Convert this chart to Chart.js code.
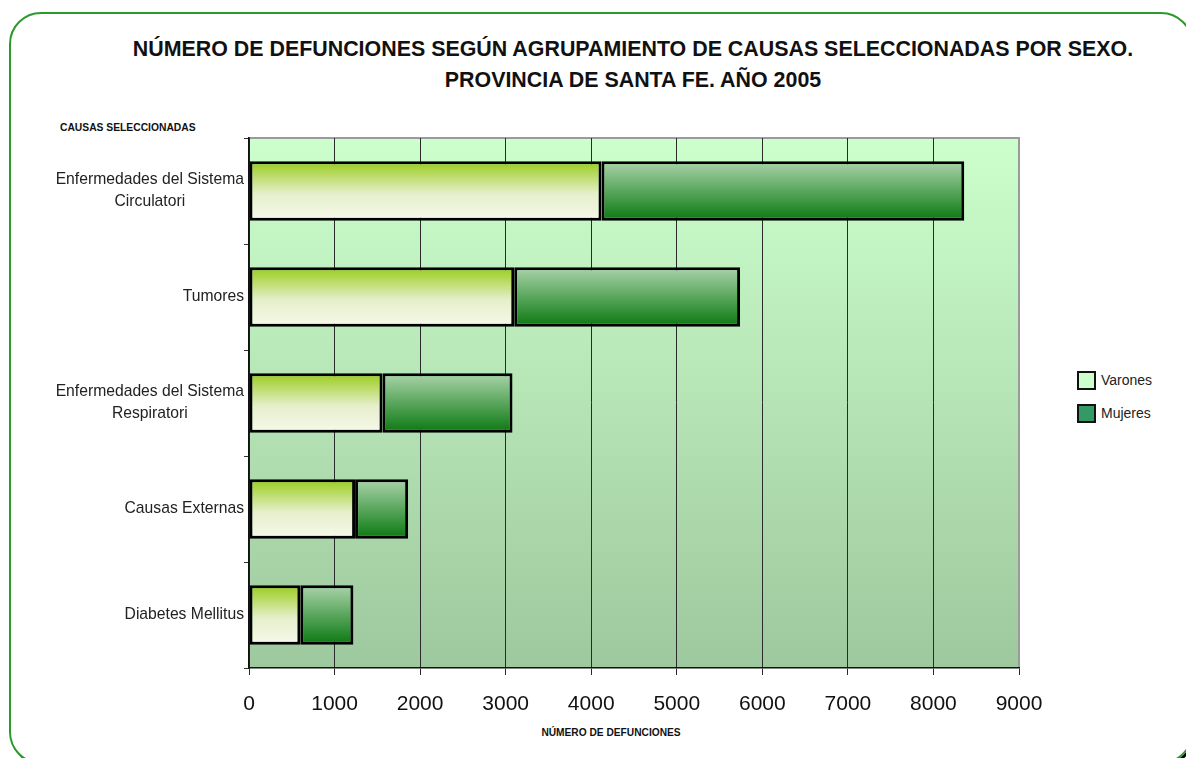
<!DOCTYPE html>
<html>
<head>
<meta charset="utf-8">
<script src="https://cdn.jsdelivr.net/npm/chart.js@4"></script>
<style>
    html, body { margin: 0; padding: 0; background: #fff; }
    body { width: 1186px; height: 758px; position: relative; overflow: hidden; font-family: "Liberation Sans", Arial, sans-serif; }
    .frame { position: absolute; left: 9px; top: 12px; width: 1180px; height: 748px; border: 2px solid #2b9a2b; border-radius: 32px; box-shadow: 2px 2px 0 #000; }
    .title { position: absolute; left: 0; width: 1266px; top: 34px; text-align: center; font-weight: bold; font-size: 21.4px; line-height: 31px; color: #111; }
    .y-title { position: absolute; left: 60px; top: 122px; font-weight: bold; font-size: 10.3px; color: #111; }
    .x-title { position: absolute; left: 249px; width: 724px; top: 727px; text-align: center; font-weight: bold; font-size: 10.2px; color: #111; }
    .legend { position: absolute; left: 1077px; top: 371px; font-size: 14px; color: #222; }
    .legend div { height: 33px; display: flex; align-items: flex-start; line-height: 18px; }
    .legend span.box { width: 15px; height: 15px; border: 2px solid #111; margin-right: 5px; }
    canvas { position: absolute; left: 0; top: 0; }
</style>
</head>
<body>
<div class="frame"></div>
<div class="title">NÚMERO DE DEFUNCIONES SEGÚN AGRUPAMIENTO DE CAUSAS SELECCIONADAS POR SEXO.<br>PROVINCIA DE SANTA FE. AÑO 2005</div>
<div class="y-title">CAUSAS SELECCIONADAS</div>
<div class="x-title">NÚMERO DE DEFUNCIONES</div>
<div class="legend">
    <div><span class="box" style="background:#ccffcc"></span>Varones</div>
    <div><span class="box" style="background:#339966"></span>Mujeres</div>
</div>
<canvas id="chart" width="1186" height="758"></canvas>
<script>
const causas = [
    ['Enfermedades del Sistema', 'Circulatori'],
    ['Tumores'],
    ['Enfermedades del Sistema', 'Respiratori'],
    ['Causas Externas'],
    ['Diabetes Mellitus'],
];
const varones = [4120, 3100, 1560, 1240, 600];
const mujeres = [4240, 2640, 1520, 620, 620];
const xTicks = [0, 1000, 2000, 3000, 4000, 5000, 6000, 7000, 8000, 9000];

const BAR_PCT = 0.56;

// vertical gradient spanning one bar
const barGradient = (context, stops) => {
    const chart = context.chart;
    const yScale = chart.scales.y;
    if (!yScale || !chart.chartArea) {
        return stops[0][1];
    }
    const band = (yScale.bottom - yScale.top) / causas.length;
    const center = yScale.getPixelForValue(context.dataIndex);
    const half = band * BAR_PCT / 2;
    const gradient = chart.ctx.createLinearGradient(0, center - half, 0, center + half);
    stops.forEach(([pos, color]) => gradient.addColorStop(pos, color));
    return gradient;
};

const plotBackground = {
    id: 'plotBackground',
    beforeDraw(chart) {
        const { ctx, chartArea: a } = chart;
        const gradient = ctx.createLinearGradient(0, a.top, 0, a.bottom);
        gradient.addColorStop(0, '#ccffcc');
        gradient.addColorStop(1, '#9ec89e');
        ctx.save();
        ctx.fillStyle = gradient;
        ctx.fillRect(a.left, a.top, a.right - a.left, a.bottom - a.top);
        ctx.strokeStyle = '#9a9a9a';
        ctx.lineWidth = 2;
        ctx.beginPath();
        ctx.moveTo(a.left, a.top);
        ctx.lineTo(a.right, a.top);
        ctx.lineTo(a.right, a.bottom);
        ctx.stroke();
        ctx.restore();
    },
};

// category labels: block right aligned, lines centered inside it
const categoryLabels = {
    id: 'categoryLabels',
    afterDraw(chart) {
        const { ctx } = chart;
        const yScale = chart.scales.y;
        const rightEdge = yScale.right - 5;
        const lineHeight = 22;
        ctx.save();
        ctx.font = '15.7px "Liberation Sans", Arial, sans-serif';
        ctx.fillStyle = '#222';
        ctx.textAlign = 'center';
        ctx.textBaseline = 'middle';
        causas.forEach((lines, i) => {
            const width = Math.max(...lines.map((line) => ctx.measureText(line).width));
            const cx = rightEdge - width / 2;
            const cy = yScale.getPixelForValue(i);
            lines.forEach((line, j) => {
                ctx.fillText(line, cx, cy + (j - (lines.length - 1) / 2) * lineHeight);
            });
        });
        ctx.restore();
    },
};

new Chart(document.getElementById('chart'), {
    type: 'bar',
    data: {
        labels: causas,
        datasets: [
            {
                label: 'Varones',
                data: varones,
                backgroundColor: (c) => barGradient(c, [[0, '#99cc1a'], [0.55, '#e6efcc'], [1, '#f6f9ea']]),
                borderColor: '#000',
                borderWidth: 3,
                borderSkipped: false,
            },
            {
                label: 'Mujeres',
                data: mujeres,
                backgroundColor: (c) => barGradient(c, [[0, '#aad4aa'], [1, '#0a7810']]),
                borderColor: '#000',
                borderWidth: 3,
                borderSkipped: false,
            },
        ],
    },
    options: {
        indexAxis: 'y',
        responsive: false,
        animation: false,
        layout: { padding: { top: 138, right: 167, left: 0, bottom: 0 } },
        datasets: {
            bar: { barPercentage: BAR_PCT, categoryPercentage: 1 },
        },
        plugins: {
            legend: { display: false },
            tooltip: { enabled: false },
        },
        scales: {
            x: {
                stacked: true,
                min: 0,
                max: 9000,
                afterBuildTicks: (scale) => {
                    scale.ticks = xTicks.map((value) => ({ value }));
                },
                afterFit: (scale) => {
                    scale.height = 90;
                },
                grid: {
                    color: (c) => (c.tick && c.tick.value === 9000 ? 'rgba(0,0,0,0)' : '#2a2a2a'),
                    tickColor: '#2a2a2a',
                    tickLength: 7,
                    lineWidth: 1,
                },
                border: { color: '#111', width: 1.5 },
                ticks: {
                    color: '#111',
                    padding: 17,
                    callback: (value) => String(value),
                    font: { size: 21, family: '"Liberation Sans", Arial, sans-serif' },
                },
            },
            y: {
                stacked: true,
                afterFit: (scale) => {
                    scale.width = 249;
                },
                grid: {
                    drawOnChartArea: false,
                    tickColor: '#333',
                    tickLength: 5,
                },
                border: { color: '#111', width: 1.5 },
                ticks: { display: false },
            },
        },
    },
    plugins: [plotBackground, categoryLabels],
});
</script>
</body>
</html>
